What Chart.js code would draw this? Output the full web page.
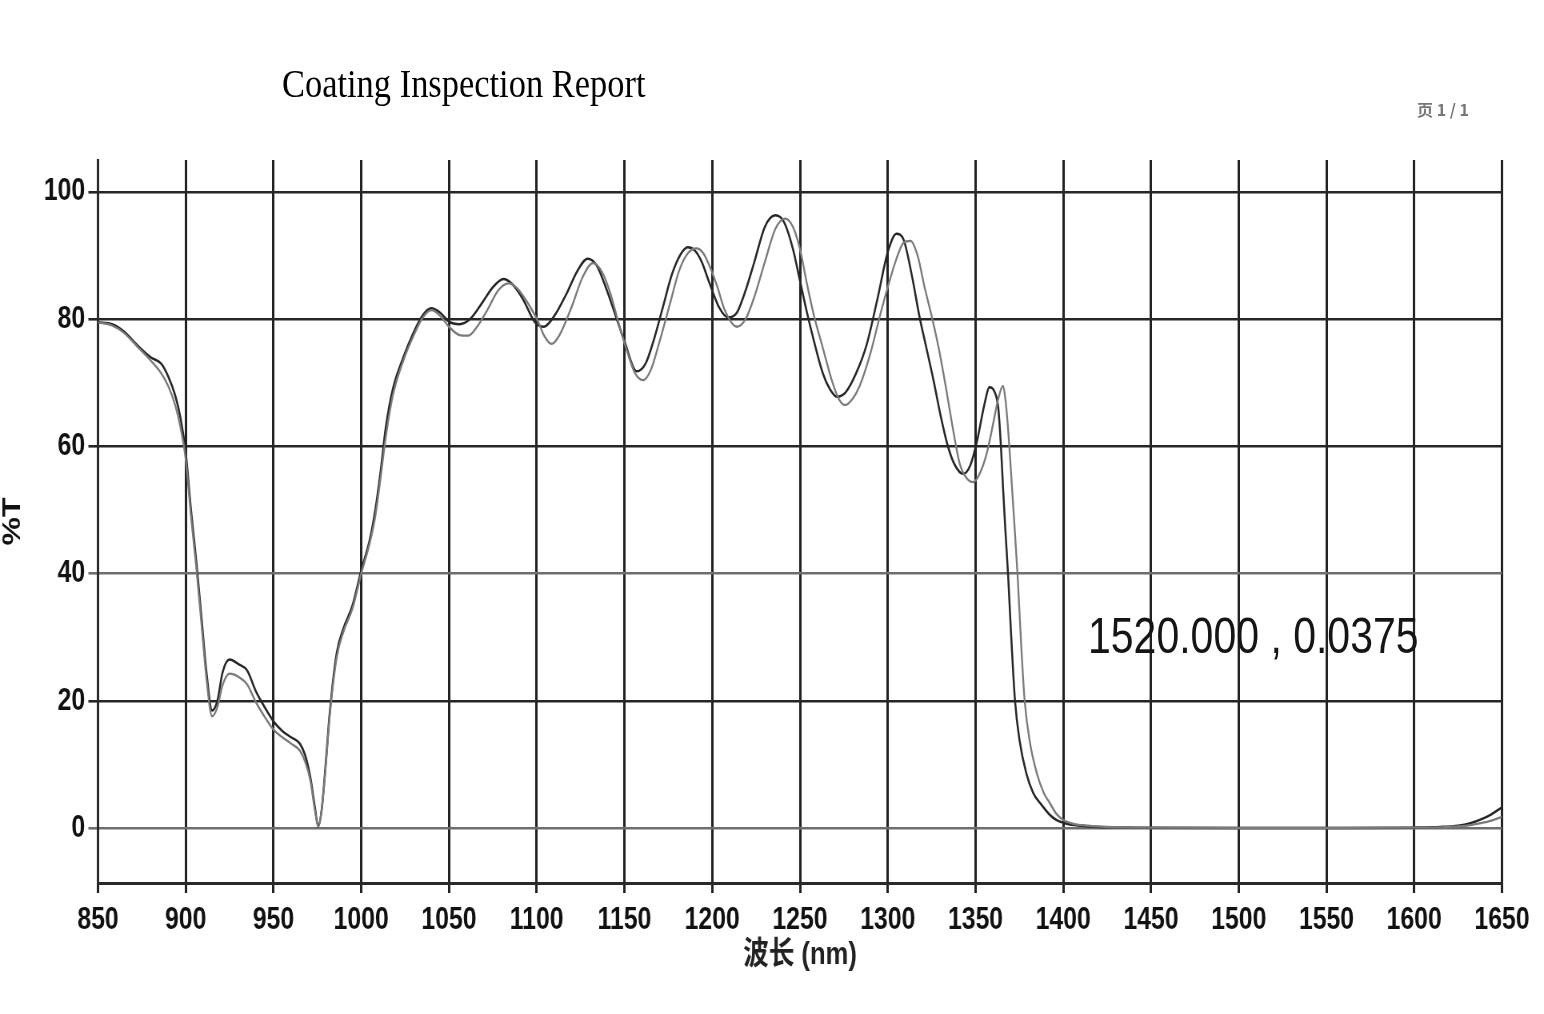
<!DOCTYPE html>
<html>
<head>
<meta charset="utf-8">
<script src="https://cdn.jsdelivr.net/npm/chart.js@4.4.1/dist/chart.umd.min.js"></script>
<style>
  body { margin: 0; background: #fff; }
  #wrap { position: relative; width: 1544px; height: 1014px; overflow: hidden; }
  #myChart { position: absolute; left: 0; top: 0; }
  .txt { position: absolute; white-space: nowrap; line-height: 1; transform-origin: 0 0; }
  #title { left: 282px; top: 63px; font-family: 'Liberation Serif', 'Times New Roman', serif; font-size: 41px; color: #000; transform: scaleX(0.84); }
  #page { left: 1417px; top: 101px; font-family: 'Noto Sans CJK SC', sans-serif; font-weight: bold; font-size: 16px; color: #777; }
  #cursor { left: 1088px; top: 611px; font-family: 'Liberation Sans', Arial, sans-serif; font-size: 50px; color: #151515; transform: scaleX(0.82); }
</style>
</head>
<body>
<div id="wrap">
  <!-- canvas is drawn wider and squeezed to 1544px: gives the narrow lettering of the scan -->
  <canvas id="myChart" width="1930" height="1014" style="width:1544px;height:1014px"></canvas>
  <div class="txt" id="title">Coating Inspection Report</div>
  <div class="txt" id="page">页 1 / 1</div>
  <div class="txt" id="cursor">1520.000 , 0.0375</div>
</div>
<script>
// wavelength (nm) and %T, first (darker) scan
const wavelengthA = [850, 858, 865, 872, 880, 886, 890, 894, 897, 900, 903, 906, 909, 912, 915, 918, 921, 925, 930, 935,
  940, 945, 950, 955, 960, 965, 968, 971, 973.5, 975.5, 977.5, 980, 982, 986, 990, 995, 1000, 1005, 1008, 1011,
  1014, 1018, 1024, 1030, 1035, 1040, 1045, 1050, 1056, 1062, 1069, 1075, 1081, 1086, 1092, 1099, 1104, 1110, 1117, 1123,
  1129, 1134, 1140, 1145, 1150, 1157, 1162, 1167, 1172, 1177, 1182, 1186, 1190, 1194, 1198, 1204, 1209, 1214, 1219, 1224,
  1230, 1236, 1241, 1246, 1250, 1254, 1258, 1263, 1267, 1271, 1276, 1282, 1288, 1294, 1300, 1305, 1309, 1314, 1318, 1322,
  1326, 1330, 1334, 1338, 1343, 1347, 1351, 1355, 1358, 1361, 1363, 1364.5, 1365.7, 1367, 1368.6, 1370, 1372.5, 1375, 1379, 1383,
  1387, 1392, 1396, 1402, 1410, 1420, 1440, 1500, 1560, 1600, 1615, 1625, 1632, 1638, 1644, 1650];
const transA = [79.5, 79.2, 78, 76, 74, 73, 71, 68, 64.5, 59, 50, 42, 33, 24, 18.5, 20, 24.5, 26.5, 25.8, 24.8,
  21.5, 19, 16.8, 15.3, 14.3, 13.3, 11.5, 8, 3.5, 0.3, 3, 11, 18, 27.5, 31.5, 35, 40.5, 45.5, 50, 56,
  63, 69, 74, 78, 80.6, 81.7, 81, 79.6, 79.2, 80, 82.6, 85, 86.3, 85.5, 83.2, 79.5, 78.8, 80.5, 84, 87.5,
  89.5, 88.5, 84.5, 80.5, 76.5, 71.8, 73, 77, 82, 87, 90.2, 91.3, 90.8, 89, 86, 81.8, 80.3, 81, 84.5, 89,
  94.5, 96.3, 95.2, 91, 86, 81, 76.5, 71.5, 69, 67.8, 68.5, 71.5, 76, 83, 90.5, 93.4, 92.5, 86.5, 80.5, 75.5,
  70.5, 65, 60.3, 57.2, 55.7, 57, 61, 66.5, 69.3, 68.5, 66, 60, 53.5, 47, 39.7, 32, 20.1, 14, 8.6, 5.5,
  3.9, 2.2, 1.3, 0.7, 0.4, 0.2, 0.1, 0.05, 0.05, 0.1, 0.2, 0.4, 0.8, 1.4, 2.2, 3.3];

// second (lighter) scan, shifted a few nm to the red
const wavelengthB = [850, 858, 865, 872, 880, 886, 890, 894, 897, 900, 903, 906, 909, 912, 915, 918, 921, 925, 930, 935,
  940, 945, 950, 955, 960, 965, 968, 971, 973.5, 975.5, 977.5, 980, 982, 986, 990, 995, 1000, 1005, 1008, 1011,
  1014, 1018, 1024, 1030, 1035, 1040, 1045, 1050, 1056, 1061, 1066, 1072, 1078, 1084, 1089, 1095, 1101, 1104, 1108.5, 1113,
  1120, 1126, 1132, 1137, 1142, 1147, 1152, 1156, 1160.5, 1165, 1170, 1176, 1181, 1186, 1191, 1195, 1199, 1203, 1207, 1214,
  1219, 1224, 1230, 1236, 1241.5, 1246, 1250, 1254, 1258, 1263, 1268, 1272, 1275.6, 1280, 1284, 1290, 1296, 1300, 1305, 1309,
  1313, 1317, 1321, 1325, 1329, 1333, 1337, 1341, 1345, 1348.6, 1352, 1356.5, 1360, 1363, 1365.7, 1367, 1368.5, 1370, 1372, 1374,
  1376, 1378, 1381, 1385, 1389, 1392.5, 1396, 1400, 1406, 1414, 1425, 1450, 1500, 1560, 1600, 1615, 1625, 1632, 1638, 1644, 1650];
const transB = [79.5, 79, 77.8, 75.8, 73.5, 71.5, 69.5, 66.5, 63, 58, 49, 41, 32, 23, 17.6, 19, 22.5, 24.3, 23.8, 22.6,
  19.8, 17.5, 15.5, 14.3, 13.3, 12.2, 10.5, 7.5, 3, 0.3, 3, 10.5, 17.5, 26.8, 31, 34.5, 40, 45, 49, 55,
  61.5, 68, 73.5, 77.5, 80.2, 81.4, 80.5, 78.8, 77.5, 77.4, 78.8, 81.5, 84.5, 85.6, 84.8, 82.5, 79.5, 77.5, 76.1, 77.5,
  82, 86.5, 88.8, 87.5, 84, 79, 74.5, 71.5, 70.4, 72, 76.5, 82.5, 87.5, 90.3, 91.1, 90.3, 88, 85, 81.5, 78.8,
  80, 83.5, 89, 94.2, 95.8, 94.5, 91, 85.5, 80.5, 75.5, 70.5, 67.5, 66.5, 67.5, 69.5, 74.5, 81, 85, 89.5, 92,
  92.3, 90, 85, 80.5, 75.5, 69.5, 63, 57.3, 55, 54.4, 55.5, 59, 63.5, 67.5, 69.5, 67.5, 63, 57, 48.5, 39.7,
  29, 20.1, 13.5, 8.6, 5.5, 3.9, 2.3, 1.3, 0.7, 0.4, 0.2, 0.1, 0.05, 0.05, 0.1, 0.15, 0.3, 0.5, 0.8, 1.2, 1.8];

const yTickValues = [0, 20, 40, 60, 80, 100];

const labelFont = "'Liberation Sans', Arial, 'Noto Sans CJK SC', sans-serif";

// horizontal squeeze of the canvas (1544 css px / 1930 canvas px)
const squeeze = 0.8;

function toPoints(xs, ys) {
  return xs.map((x, i) => ({ x: x, y: ys[i] }));
}

let myChart;

document.addEventListener('DOMContentLoaded', () => {
  const ctx = document.getElementById('myChart').getContext('2d');

  myChart = new Chart(ctx, {
    type: 'line',
    data: {
      datasets: [{
        label: 'scan 2',
        data: toPoints(wavelengthB, transB),
        borderColor: '#7a7a7a',
        borderWidth: 2.3,
        pointRadius: 0,
        cubicInterpolationMode: 'monotone'
      }, {
        label: 'scan 1',
        data: toPoints(wavelengthA, transA),
        borderColor: '#262626',
        borderWidth: 2.5,
        pointRadius: 0,
        cubicInterpolationMode: 'monotone'
      }]
    },
    options: {
      responsive: false,
      animation: false,
      devicePixelRatio: 1,
      layout: { padding: { top: 160, right: 42 / squeeze, bottom: 0, left: 0 } },
      plugins: {
        legend: { display: false },
        tooltip: { enabled: false }
      },
      scales: {
        x: {
          type: 'linear',
          min: 850,
          max: 1650,
          afterFit: (scale) => { scale.height = 131; },
          ticks: {
            stepSize: 50,
            padding: 9,
            color: '#111',
            font: { family: labelFont, size: 31, weight: 'bold' },
            callback: (v) => String(v)
          },
          grid: { color: '#222', lineWidth: 3, tickLength: 10 },
          border: { color: '#2a2a2a', width: 3 },
          title: {
            display: true,
            text: '波长 (nm)',
            color: '#222',
            font: { family: labelFont, size: 32, weight: 'bold' },
            padding: { top: 0, bottom: 40 }
          }
        },
        y: {
          type: 'linear',
          min: -8.6,
          max: 105,
          afterFit: (scale) => { scale.width = 98 / squeeze; },
          afterBuildTicks: (scale) => { scale.ticks = yTickValues.map(v => ({ value: v })); },
          ticks: {
            padding: 4,
            color: '#111',
            font: { family: labelFont, size: 31, weight: 'bold' },
            callback: (v) => String(v)
          },
          grid: {
            color: (c) => (c.tick && (c.tick.value === 0 || c.tick.value === 40)) ? '#6e6e6e' : '#262626',
            lineWidth: 2.6,
            tickLength: 12
          },
          border: { color: '#2a2a2a', width: 3 },
          title: {
            display: true,
            text: '%T',
            color: '#111',
            font: { family: labelFont, size: 32, weight: 'bold', lineHeight: 1 },
            padding: 0
          }
        }
      }
    }
  });
});
</script>
</body>
</html>
